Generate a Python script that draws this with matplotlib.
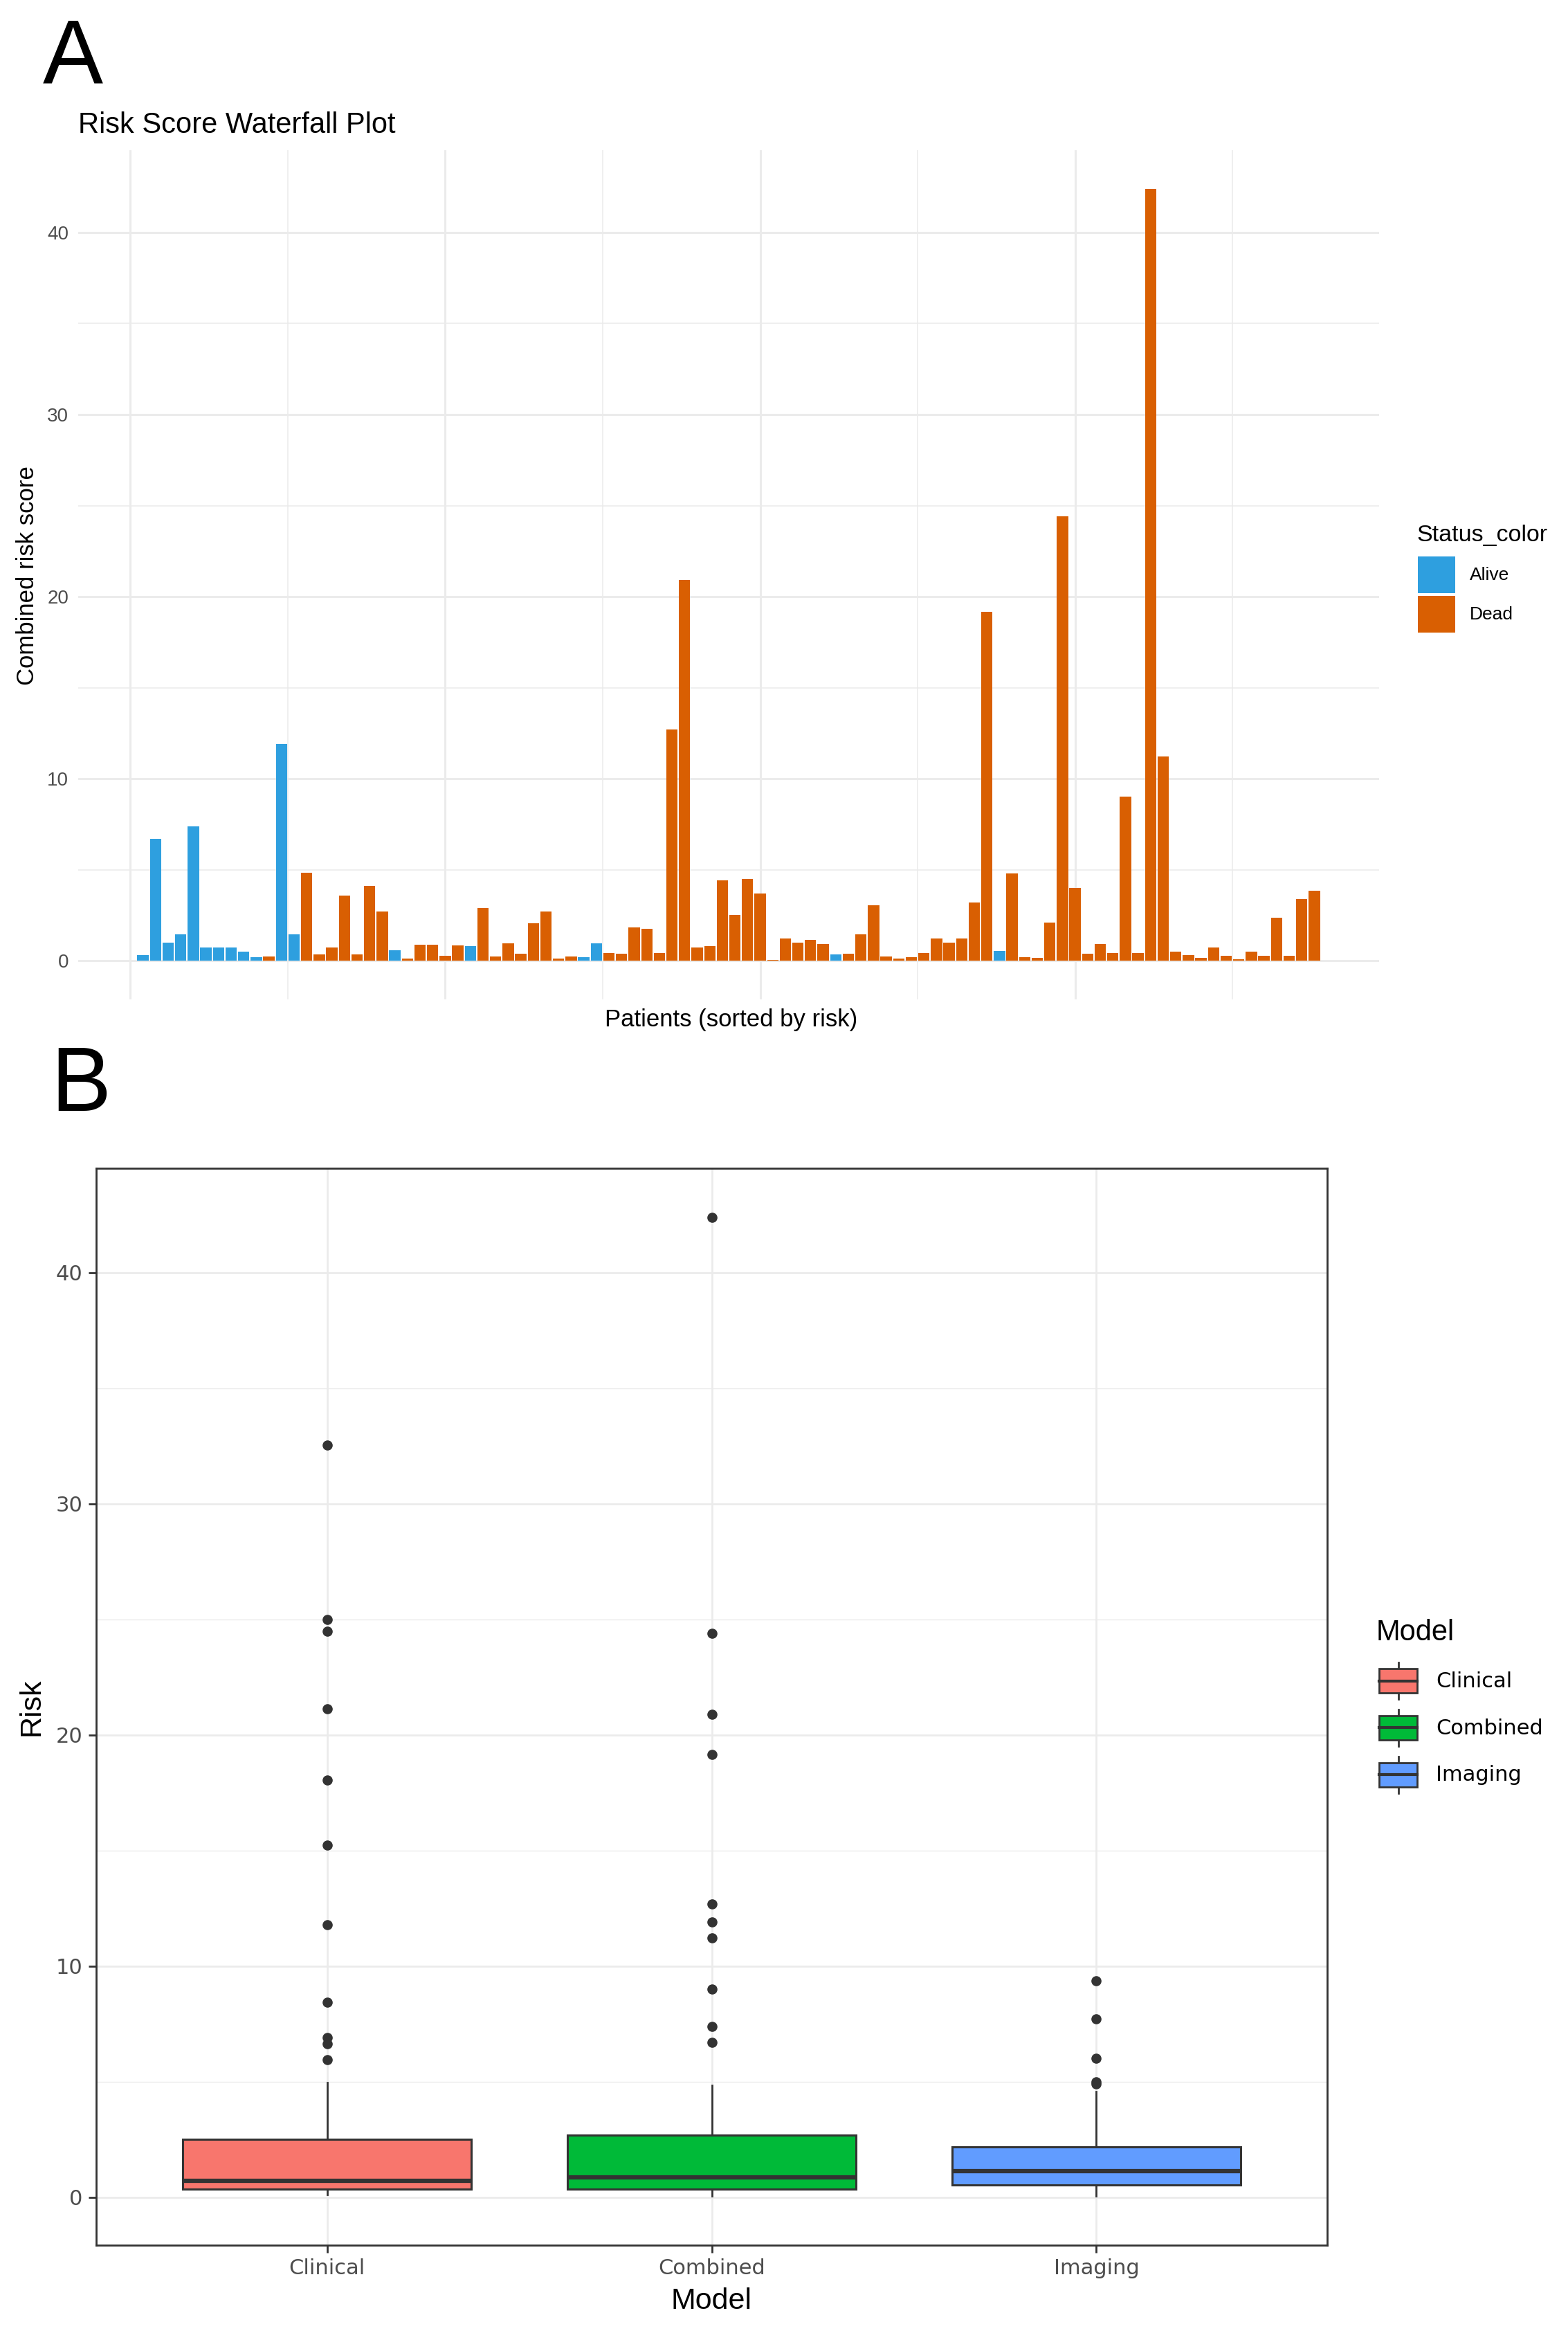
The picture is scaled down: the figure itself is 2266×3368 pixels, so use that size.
import matplotlib
matplotlib.use('Agg')
import matplotlib.pyplot as plt
import numpy as np
from matplotlib.patches import Patch, Rectangle
from matplotlib.lines import Line2D
from matplotlib.legend_handler import HandlerBase
from matplotlib.ticker import MultipleLocator

# waterfall: combined risk per patient, in plotted order
combined_risk = [0.32, 6.7, 0.98, 1.46, 7.4, 0.72, 0.72, 0.72, 0.49, 0.19,
                 0.22, 11.9, 1.44, 4.85, 0.35, 0.72, 3.6, 0.34, 4.1, 2.7,
                 0.57, 0.13, 0.89, 0.87, 0.29, 0.85, 0.79, 2.9, 0.24, 0.94,
                 0.39, 2.06, 2.7, 0.13, 0.24, 0.19, 0.94, 0.41, 0.39, 1.84,
                 1.77, 0.41, 12.7, 20.9, 0.72, 0.79, 4.4, 2.5, 4.5, 3.7,
                 0.05, 1.23, 0.98, 1.14, 0.91, 0.34, 0.38, 1.46, 3.06, 0.22,
                 0.11, 0.19, 0.41, 1.23, 0.98, 1.23, 3.2, 19.15, 0.53, 4.8,
                 0.19, 0.16, 2.1, 24.4, 4.0, 0.38, 0.91, 0.43, 9.0, 0.41,
                 42.4, 11.24, 0.49, 0.32, 0.16, 0.72, 0.27, 0.1, 0.49, 0.27,
                 2.36, 0.29, 3.4, 3.85]
status = ["Alive"] * 10 + ["Dead", "Alive", "Alive"] + ["Dead"] * 7 + ["Alive"] \
    + ["Dead"] * 5 + ["Alive"] + ["Dead"] * 8 + ["Alive", "Alive"] + ["Dead"] * 18 \
    + ["Alive"] + ["Dead"] * 12 + ["Alive"] + ["Dead"] * 25

clinical_risk = [0.12, 0.14, 0.16, 0.18, 0.20, 0.21, 0.23, 0.24, 0.25, 0.26,
                 0.27, 0.28, 0.29, 0.30, 0.31, 0.31, 0.32, 0.33, 0.33, 0.34,
                 0.35, 0.35, 0.36, 0.37, 0.38, 0.39, 0.41, 0.42, 0.44, 0.46,
                 0.47, 0.49, 0.51, 0.52, 0.54, 0.56, 0.58, 0.59, 0.61, 0.63,
                 0.64, 0.66, 0.67, 0.69, 0.70, 0.71, 0.72, 0.74, 0.77, 0.81,
                 0.86, 0.91, 0.97, 1.03, 1.10, 1.17, 1.25, 1.33, 1.41, 1.50,
                 1.59, 1.68, 1.78, 1.88, 1.98, 2.09, 2.20, 2.32, 2.43, 2.49,
                 2.53, 2.62, 2.75, 2.89, 3.04, 3.20, 3.37, 3.55, 3.74, 3.96,
                 4.21, 4.55, 4.96, 5.96, 6.64, 6.90, 8.44, 11.8, 15.24, 18.05,
                 21.14, 24.5, 25.0, 32.55]
imaging_risk = [0.05, 0.09, 0.13, 0.17, 0.20, 0.23, 0.26, 0.28, 0.30, 0.32,
                0.34, 0.36, 0.38, 0.40, 0.42, 0.43, 0.45, 0.46, 0.48, 0.49,
                0.50, 0.51, 0.52, 0.53, 0.54, 0.56, 0.59, 0.61, 0.64, 0.67,
                0.69, 0.72, 0.75, 0.78, 0.81, 0.84, 0.87, 0.90, 0.93, 0.96,
                0.99, 1.02, 1.05, 1.08, 1.10, 1.12, 1.13, 1.15, 1.18, 1.22,
                1.26, 1.30, 1.34, 1.38, 1.42, 1.46, 1.51, 1.56, 1.61, 1.66,
                1.71, 1.76, 1.81, 1.86, 1.91, 1.96, 2.01, 2.06, 2.11, 2.15,
                2.19, 2.25, 2.33, 2.41, 2.50, 2.59, 2.69, 2.79, 2.90, 3.01,
                3.13, 3.26, 3.40, 3.55, 3.71, 3.89, 4.09, 4.32, 4.58, 4.90,
                5.00, 6.03, 7.73, 9.38]

models = ["Clinical", "Combined", "Imaging"]
status_levels = ["Alive", "Dead"]
status_colors = {"Alive": "#2E9FDF", "Dead": "#D95F02"}
model_colors = ["#F8766D", "#00BA38", "#619CFF"]

W, H = 2266, 3368
SANS = ["Liberation Sans", "DejaVu Sans"]
WIDE = ["DejaVu Sans"]
GRID = "#EBEBEB"
DARK = "#333333"


def fx(px):
    return px / W


def fy(px):
    return 1 - px / H


class BoxKey(HandlerBase):
    def create_artists(self, legend, orig_handle, xdescent, ydescent,
                       width, height, fontsize, trans):
        x0, y0 = -xdescent, -ydescent
        cx, cy = x0 + width / 2, y0 + height / 2
        bh = height * 0.57
        whisk = Line2D([cx, cx], [y0 + height * 0.07, y0 + height * 0.93],
                       color=DARK, lw=2.0, transform=trans)
        box = Rectangle((x0, cy - bh / 2), width, bh,
                        facecolor=orig_handle.get_facecolor(),
                        edgecolor=DARK, lw=2.0, transform=trans)
        med = Line2D([x0, x0 + width], [cy, cy], color=DARK, lw=3.0,
                     transform=trans)
        return [whisk, box, med]


fig = plt.figure(figsize=(W / 100, H / 100), dpi=100)

# ---------------- A: waterfall ----------------
axA = fig.add_axes([fx(113), fy(1444), fx(1993 - 113), (1444 - 217) / H])
n = len(combined_risk)
xs = np.arange(1, n + 1)
bar_cols = [status_colors[s] for s in status]
axA.bar(xs, combined_risk, width=0.9, color=bar_cols, linewidth=0)

span = (n + 0.45) - 0.55
axA.set_xlim(0.55 - 0.05 * span, n + 0.45 + 0.05 * span)
ymax = max(combined_risk)
axA.set_ylim(-0.05 * ymax, ymax * 1.05)

axA.xaxis.set_major_locator(MultipleLocator(25))
axA.xaxis.set_minor_locator(MultipleLocator(12.5))
axA.yaxis.set_major_locator(MultipleLocator(10))
axA.yaxis.set_minor_locator(MultipleLocator(5))
axA.grid(which="major", color=GRID, lw=2.2)
axA.grid(which="minor", color=GRID, lw=1.1)
axA.set_axisbelow(True)
for s in axA.spines.values():
    s.set_visible(False)
axA.tick_params(which="both", length=0)
axA.tick_params(axis="y", labelsize=20, labelcolor="#4D4D4D", pad=10)
axA.set_xticklabels([])
for lab in axA.get_yticklabels():
    lab.set_family(SANS)

fig.text(fx(62), fy(120), "A", fontsize=94, family=SANS, va="baseline")
fig.text(fx(113), fy(192), "Risk Score Waterfall Plot", fontsize=30,
         family=SANS, va="baseline")
fig.text(fx(40), fy(832), "Combined risk score", fontsize=25, family=SANS,
         rotation=90, ha="center", va="center")
fig.text(fx(1057), fy(1474), "Patients (sorted by risk)", fontsize=25,
         family=SANS, ha="center", va="center")

# legend A: title as its own text, keys below it
fig.text(fx(2047), fy(782), "Status_color", fontsize=24.5, family=SANS,
         va="baseline")
handlesA = [Patch(facecolor=status_colors[s], edgecolor="none") for s in status_levels]
legA = fig.legend(handlesA, status_levels,
                  loc="upper left", bbox_to_anchor=(fx(2049), fy(804)),
                  frameon=False, borderpad=0, borderaxespad=0,
                  handlelength=2.05, handleheight=2.7, labelspacing=0.16,
                  handletextpad=0.8,
                  prop={"family": SANS, "size": 19})

# ---------------- B: boxplot ----------------
axB = fig.add_axes([fx(139), fy(3244), fx(1918 - 139), (3244 - 1688) / H])
data = [clinical_risk, combined_risk, imaging_risk]
bp = axB.boxplot(data, positions=[1, 2, 3], widths=0.75, patch_artist=True,
                 whis=1.5, showcaps=False,
                 boxprops=dict(edgecolor=DARK, linewidth=2.2),
                 medianprops=dict(color=DARK, linewidth=4.5),
                 whiskerprops=dict(color=DARK, linewidth=2.0),
                 flierprops=dict(marker="o", markerfacecolor=DARK,
                                 markeredgecolor=DARK, markersize=9.5))
for patch, c in zip(bp["boxes"], model_colors):
    patch.set_facecolor(c)

allv = np.concatenate([np.array(d) for d in data])
lo, hi = allv.min(), allv.max()
axB.set_xlim(0.4, 3.6)
axB.set_ylim(lo - 0.05 * (hi - lo), hi + 0.05 * (hi - lo))
axB.set_xticks([1, 2, 3])
axB.set_xticklabels(models)
axB.yaxis.set_major_locator(MultipleLocator(10))
axB.yaxis.set_minor_locator(MultipleLocator(5))
axB.grid(which="major", color=GRID, lw=2.0)
axB.grid(which="minor", axis="y", color=GRID, lw=1.0)
axB.set_axisbelow(True)
for s in axB.spines.values():
    s.set_color(DARK)
    s.set_linewidth(2.0)
axB.tick_params(which="major", length=8, width=2.0, color=DARK,
                labelsize=22, labelcolor="#4D4D4D", pad=6)
axB.tick_params(which="minor", length=0)
for lab in axB.get_xticklabels() + axB.get_yticklabels():
    lab.set_family(WIDE)

fig.text(fx(73), fy(1605), "B", fontsize=94, family=SANS, va="baseline")
fig.text(fx(46), fy(2466), "Risk", fontsize=31, family=SANS, rotation=90,
         ha="center", va="center")
fig.text(fx(1028), fy(3305), "Model", fontsize=31, family=SANS,
         ha="center", va="top")

# legend B: title as its own text, boxplot-style keys below it
fig.text(fx(1989), fy(2370), "Model", fontsize=30, family=SANS,
         va="baseline")
handlesB = [Patch(facecolor=c) for c in model_colors]
legB = fig.legend(handlesB, models, loc="upper left",
                  bbox_to_anchor=(fx(1993), fy(2398)), frameon=False,
                  borderpad=0, borderaxespad=0, handlelength=1.8,
                  handleheight=2.7, labelspacing=0.22, handletextpad=0.9,
                  handler_map={Patch: BoxKey()},
                  prop={"family": WIDE, "size": 22})

fig.savefig("out.png", dpi=100)
